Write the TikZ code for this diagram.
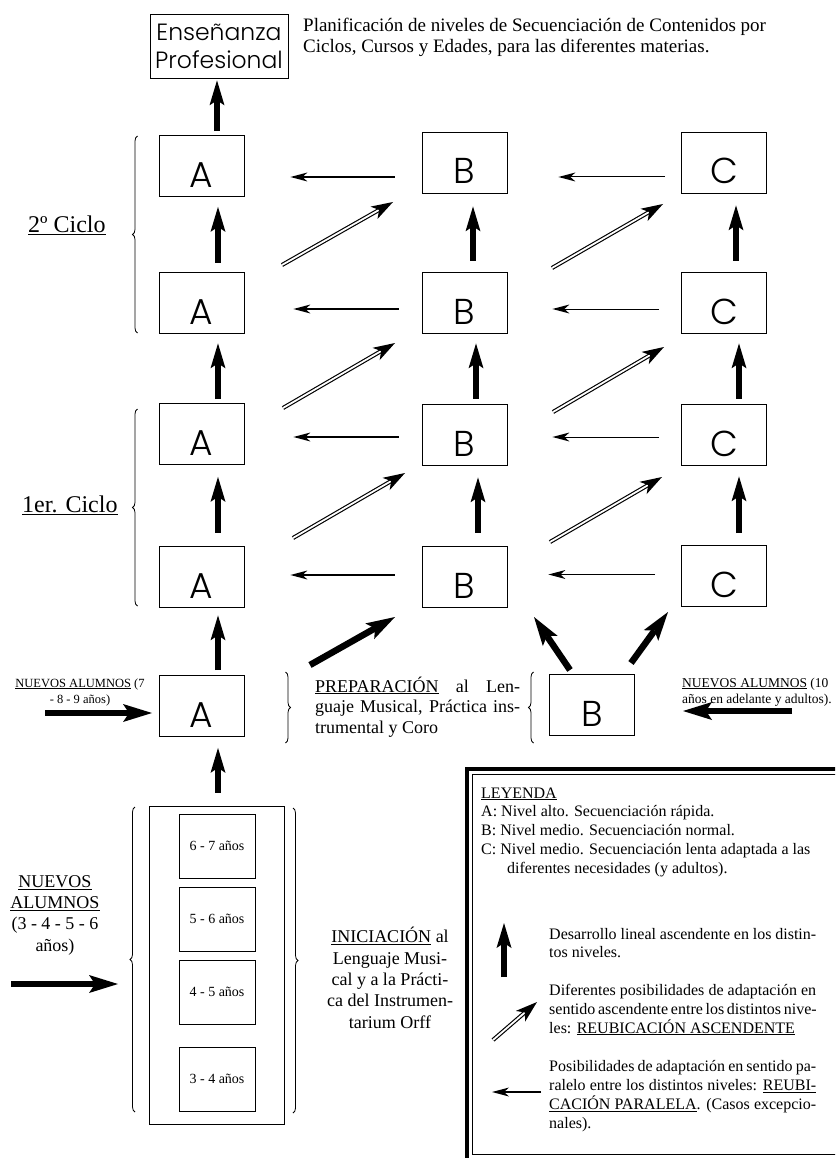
\documentclass[tikz,border=0pt]{standalone}
\usepackage{fontspec}
\setmainfont{Liberation Serif}
\IfFontExistsTF{Poppins Light}{\newfontfamily\gothic{Poppins Light}}{\newfontfamily\gothic{Poppins}}
\usetikzlibrary{arrows.meta,decorations.pathreplacing,calc}
\newcommand{\fsz}[2]{\fontsize{#1}{#2}\selectfont}
\newcommand{\jl}[2]{\makebox[#1][s]{#2}}
\newcommand{\dblarrow}[2]{%
  \draw[dshaft] (#1) -- ($(#2)!13pt!(#1)$);
  \fill ($(#2)$) -- ($(#2)!23pt!18:(#1)$) -- ($(#2)!16pt!(#1)$) -- ($(#2)!23pt!-18:(#1)$) -- cycle;}
\tikzset{
  lvl/.style={draw, line width=0.8pt, minimum width=85pt, minimum height=61pt, inner sep=0pt,
    font=\gothic\fsz{36}{36}, text height=43pt, text depth=0pt},
  age/.style={draw, line width=0.8pt, minimum width=76pt, minimum height=64pt, inner sep=0pt, font=\fsz{14}{16}},
  up/.style={line width=5.8pt, -{Stealth[length=25pt,width=15pt,inset=5pt,line width=0pt]}},
  bigarr/.style={line width=6.5pt, -{Stealth[length=29pt,width=18pt,inset=6pt,line width=0pt]}},
  parr/.style={line width=1.2pt, -{Stealth[length=17pt,width=9pt,inset=5pt,line width=0pt]}},
  dshaft/.style={double, double distance=1.8pt, line width=1.15pt},
  brc/.style={decorate, decoration={brace, amplitude=5pt}, line width=0.8pt},
  txt/.style={inner sep=0pt},
}
\begin{document}
\begin{tikzpicture}[x=1pt,y=-1pt]
\useasboundingbox (0,0) rectangle (835,1158);
\clip (0,0) rectangle (835,1158);

% ---------- header ----------
\node[draw, line width=0.8pt, minimum width=138pt, minimum height=64pt, inner sep=0pt,
  font=\gothic\fsz{23.5}{28}, align=center] (EP) at (219,46) {Enseñanza\\Profesional};
\node[txt, align=left, anchor=base west, font=\fsz{19}{21}] (hdr) at (303,52.5)
  {Planificación de niveles de Secuenciación de Contenidos por\\Ciclos, Cursos y Edades, para las diferentes materias.};

% ---------- level boxes ----------
\node[lvl] (A1) at (201.5,166) {A};
\node[lvl] (A2) at (201.5,302.5) {A};
\node[lvl] (A3) at (201.5,434) {A};
\node[lvl] (A4) at (201.5,576.5) {A};
\node[lvl] (B1) at (464.5,162.5) {B};
\node[lvl] (B2) at (464.5,302.5) {B};
\node[lvl] (B3) at (464.5,434.5) {B};
\node[lvl] (B4) at (464.5,576.5) {B};
\node[lvl] (C1) at (724,162.5) {C};
\node[lvl] (C2) at (724,302.5) {C};
\node[lvl] (C3) at (724,434.5) {C};
\node[lvl] (C4) at (724,576) {C};
\node[lvl] (AP) at (201.5,706) {A};
\node[lvl] (BP) at (592,704.5) {B};

% ---------- vertical arrows ----------
\draw[up, shorten <=4pt, shorten >=2pt] ([xshift=15.5pt]A1.north) -- ([xshift=15.5pt]A1.north |- EP.south);
\draw[up, shorten <=9pt, shorten >=10pt] ([xshift=16.5pt]A2.north) -- ([xshift=16.5pt]A1.south);
\draw[up, shorten <=4pt, shorten >=10pt] ([xshift=16.5pt]A3.north) -- ([xshift=16.5pt]A2.south);
\draw[up, shorten <=13pt, shorten >=12pt] ([xshift=16.5pt]A4.north) -- ([xshift=16.5pt]A3.south);
\draw[up, shorten <=5pt, shorten >=8pt] ([xshift=16.5pt]AP.north) -- ([xshift=16.5pt]A4.south);
\draw[up, shorten <=11pt, shorten >=13pt] ([xshift=8.5pt]B2.north) -- ([xshift=8.5pt]B1.south);
\draw[up, shorten <=5pt, shorten >=10pt] ([xshift=11.5pt]B3.north) -- ([xshift=11.5pt]B2.south);
\draw[up, shorten <=13pt, shorten >=12pt] ([xshift=13.5pt]B4.north) -- ([xshift=13.5pt]B3.south);
\draw[up, shorten <=11pt, shorten >=12pt] ([xshift=12pt]C2.north) -- ([xshift=12pt]C1.south);
\draw[up, shorten <=5pt, shorten >=10pt] ([xshift=15pt]C3.north) -- ([xshift=15pt]C2.south);
\draw[up, shorten <=12pt, shorten >=11pt] ([xshift=15pt]C4.north) -- ([xshift=15pt]C3.south);

% ---------- parallel (thin) arrows ----------
\draw[parr, shorten <=27pt, shorten >=46pt] ([yshift=-14.5pt]B1.west) -- ([yshift=-14.5pt]B1.west -| A1.east);
\draw[parr, line width=1pt, shorten <=16pt, shorten >=51pt] ([yshift=-14.5pt]C1.west) -- ([yshift=-14.5pt]C1.west -| B1.east);
\draw[parr, shorten <=23pt, shorten >=49pt] ([yshift=-6.5pt]B2.west) -- ([yshift=-6.5pt]B2.west -| A2.east);
\draw[parr, line width=1pt, shorten <=22pt, shorten >=45pt] ([yshift=-6.5pt]C2.west) -- ([yshift=-6.5pt]C2.west -| B2.east);
\draw[parr, shorten <=23pt, shorten >=49pt] ([yshift=-2.5pt]B3.west) -- ([yshift=-2.5pt]B3.west -| A3.east);
\draw[parr, line width=1pt, shorten <=22pt, shorten >=45pt] ([yshift=-2.5pt]C3.west) -- ([yshift=-2.5pt]C3.west -| B3.east);
\draw[parr, shorten <=27pt, shorten >=46pt] ([yshift=1.5pt]B4.west) -- ([yshift=1.5pt]B4.west -| A4.east);
\draw[parr, line width=1pt, shorten <=26pt, shorten >=41pt] ([yshift=1.5pt]C4.west) -- ([yshift=1.5pt]C4.west -| B4.east);

% ---------- ascending (double) arrows ----------
\coordinate (d1s) at (282,265); \coordinate (d1t) at (393,202);
\coordinate (d2s) at (552,268); \coordinate (d2t) at (663,204);
\coordinate (d3s) at (283,408); \coordinate (d3t) at (395,343);
\coordinate (d4s) at (553,412); \coordinate (d4t) at (664,347);
\coordinate (d5s) at (293,538); \coordinate (d5t) at (405,473);
\coordinate (d6s) at (550,542); \coordinate (d6t) at (662,477);
\dblarrow{d1s}{d1t}
\dblarrow{d2s}{d2t}
\dblarrow{d3s}{d3t}
\dblarrow{d4s}{d4t}
\dblarrow{d5s}{d5t}
\dblarrow{d6s}{d6t}

% ---------- thick diagonal arrows from preparation ----------
\coordinate (e1s) at (310,665); \coordinate (e1t) at (395,617);
\coordinate (e2s) at (570,670); \coordinate (e2t) at (534,617);
\coordinate (e3s) at (631,663); \coordinate (e3t) at (668,612);
\draw[bigarr] (e1s) -- (e1t);
\draw[bigarr] (e2s) -- (e2t);
\draw[bigarr] (e3s) -- (e3t);

% ---------- new students arrows ----------
\coordinate (h1s) at (45,713); \coordinate (h1t) at (152,713);
\coordinate (h2s) at (792,711); \coordinate (h2t) at (683,711);
\coordinate (h3s) at (11,984); \coordinate (h3t) at (118,984);
\draw[bigarr] (h1s) -- (h1t);
\draw[bigarr] (h2s) -- (h2t);
\draw[bigarr] (h3s) -- (h3t);

% ---------- cycle labels and braces ----------
\node[txt, anchor=base west, font=\fsz{24}{28}] (L2) at (28,233) {\underline{2º Ciclo}};
\node[txt, anchor=base west, font=\fsz{24}{28}] (L1) at (22,512) {\underline{1er. Ciclo}};
\draw[brc] (137.5,333) -- (137.5,136);
\draw[brc] (137.5,606) -- (137.5,409);

% ---------- preparation ----------
\node[txt, align=center, anchor=base, font=\fsz{12.5}{16}] (N1) at (80,703)
  {\underline{NUEVOS ALUMNOS} (7\\- 8 - 9 años)};
\node[txt, align=left, anchor=base west, font=\fsz{13.5}{16}] (N2) at (682,703)
  {\underline{NUEVOS ALUMNOS} (10\\años en adelante y adultos).};
\draw[brc] (285.5,672) -- (285.5,743);
\draw[brc] (533.5,743) -- (533.5,672);
\node[txt, align=left, anchor=base west, font=\fsz{18}{20.5}] (PR) at (315,733)
  {\jl{205pt}{\underline{PREPARACIÓN} al Len-}\\\jl{205pt}{guaje Musical, Práctica ins-}\\trumental y Coro};

% ---------- initiation ----------
\node[draw, line width=0.8pt, minimum width=135pt, minimum height=318pt, inner sep=0pt] (OB) at (216.5,965) {};
\node[age] (Y1) at (217,846) {6 - 7 años};
\node[age] (Y2) at (217,919) {5 - 6 años};
\node[age] (Y3) at (217,992) {4 - 5 años};
\node[age] (Y4) at (217,1079) {3 - 4 años};
\draw[up, shorten <=13pt, shorten >=11pt] ([xshift=1.5pt]OB.north) -- ([xshift=1.5pt]OB.north |- AP.south);
\draw[brc] (135,1112) -- (135,807);
\draw[brc] (293,808) -- (293,1113);
\node[txt, align=center, anchor=base, font=\fsz{18}{21.3}] (N3) at (55,951)
  {\underline{NUEVOS}\\\underline{ALUMNOS}\\(3 - 4 - 5 - 6\\años)};
\node[txt, align=center, anchor=base, font=\fsz{18}{21.3}] (IN) at (390,1028)
  {\underline{INICIACIÓN} al\\Lenguaje Musi-\\cal y a la Prácti-\\ca del Instrumen-\\tarium Orff};

% ---------- legend ----------
\draw[line width=3.5pt] (467,769) rectangle (850,1172);
\draw[line width=1pt] (472.5,774.5) rectangle (838,1154.5);
\node[txt, align=left, anchor=base west, font=\fsz{16}{18.7}] (LG) at (481,873)
  {\underline{LEYENDA}\\A: Nivel alto. Secuenciación rápida.\\B: Nivel medio. Secuenciación normal.\\C: Nivel medio. Secuenciación lenta adaptada a las\\\hspace*{26pt}diferentes necesidades (y adultos).};
\coordinate (k1s) at (504,977); \coordinate (k1t) at (504,923);
\draw[up] (k1s) -- (k1t);
\node[txt, align=left, anchor=base west, font=\fsz{16}{18.5}] (K1) at (549,957.5)
  {\jl{267pt}{Desarrollo lineal ascendente en los distin-}\\tos niveles.};
\coordinate (k2s) at (493,1040); \coordinate (k2t) at (537,1002);
\dblarrow{k2s}{k2t}
\node[txt, align=left, anchor=base west, font=\fsz{16}{19}] (K2) at (549,1033)
  {\jl{267pt}{Diferentes posibilidades de adaptación en}\\\jl{267pt}{sentido ascendente entre los distintos nive-}\\les: \underline{REUBICACIÓN ASCENDENTE}};
\coordinate (k3s) at (541,1092); \coordinate (k3t) at (492,1092);
\draw[parr] (k3s) -- (k3t);
\node[txt, align=left, anchor=base west, font=\fsz{16}{18.7}] (K3) at (549,1128)
  {\jl{267pt}{Posibilidades de adaptación en sentido pa-}\\\jl{267pt}{ralelo entre los distintos niveles: \underline{REUBI-}}\\\jl{267pt}{\underline{CACIÓN PARALELA}. (Casos excepcio-}\\nales).};
\end{tikzpicture}
\end{document}
